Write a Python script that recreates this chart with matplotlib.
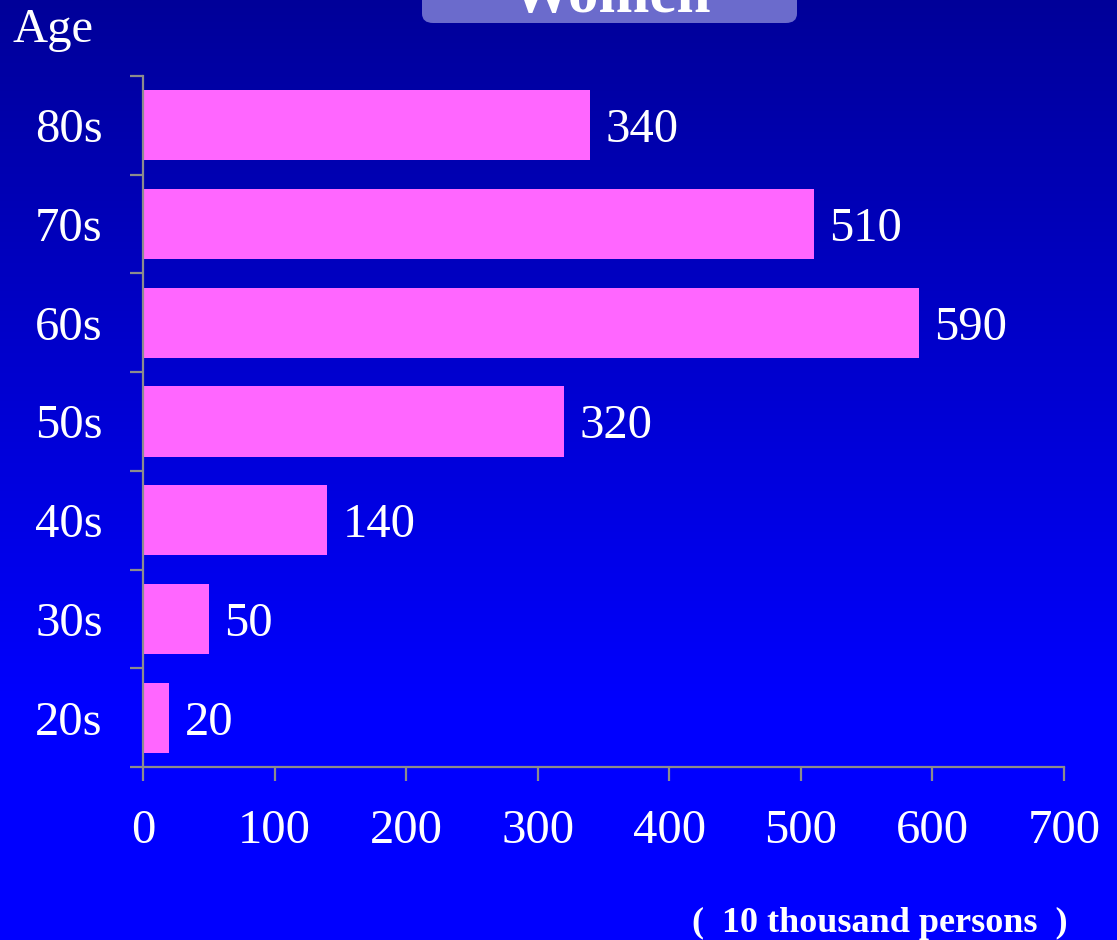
import numpy as np
import matplotlib
matplotlib.use("Agg")
import matplotlib.pyplot as plt
from matplotlib.patches import FancyBboxPatch

# age groups, bottom to top
ages = ["20s", "30s", "40s", "50s", "60s", "70s", "80s"]
women = [20, 50, 140, 320, 590, 510, 340]
x_ticks = [0, 100, 200, 300, 400, 500, 600, 700]

plt.rcParams["font.family"] = ["Liberation Serif", "DejaVu Serif"]

fig = plt.figure(figsize=(11.17, 9.4), dpi=100)

# blue background, darker at the top
bg = fig.add_axes([0, 0, 1, 1], zorder=0)
bg.axis("off")
rows = np.linspace(0, 1, 400)
blue = np.clip(0.60 + 0.40 * rows / 0.75, 0, 1)
grad = np.zeros((400, 2, 3))
grad[:, :, 2] = blue[:, None]
bg.imshow(grad, aspect="auto", extent=[0, 1, 1, 0], interpolation="bilinear")
bg.set_xlim(0, 1)
bg.set_ylim(1, 0)

ax = fig.add_axes([143 / 1117, 1 - 767 / 940, (1064 - 143) / 1117, (767 - 76) / 940], zorder=1)
ax.patch.set_alpha(0)

y = np.arange(len(ages))
ax.barh(y, women, height=0.71, color="#FF66FF", zorder=2)
for yi, v in zip(y, women):
    ax.annotate(str(v), (v, yi), xytext=(11, 0), textcoords="offset points",
                va="center_baseline", ha="left", color="white", fontsize=35)

ax.set_xlim(0, 700)
ax.set_ylim(-0.5, len(ages) - 0.5)

for s in ["top", "right"]:
    ax.spines[s].set_visible(False)
for s in ["left", "bottom"]:
    ax.spines[s].set_color("#8C8C8C")
    ax.spines[s].set_linewidth(1.6)

ax.set_xticks(x_ticks)
ax.set_xticklabels([str(t) for t in x_ticks])
ax.tick_params(axis="x", colors="#8C8C8C", length=10, width=1.6, direction="out",
               labelcolor="white", labelsize=35, pad=20)

# boundary ticks on the y axis, labels at the bar centres
ax.set_yticks(np.arange(-0.5, len(ages), 1.0))
ax.set_yticklabels([])
ax.set_yticks(y, minor=True)
ax.set_yticklabels(ages, minor=True, va="center_baseline")
ax.tick_params(axis="y", which="major", colors="#8C8C8C", length=9.5, width=1.6, direction="out")
ax.tick_params(axis="y", which="minor", length=0, labelcolor="white", labelsize=35, pad=29)

fig.text(12 / 1117, 1 - 42 / 940, "Age", color="white", fontsize=35, ha="left", va="baseline")
fig.text(1068 / 1117, 1 - 932 / 940, "(  10 thousand persons  )", color="white", fontsize=26,
         fontweight="bold", ha="right", va="baseline")

# title tab at the top edge
box = FancyBboxPatch((422 / 1117, 1 - 23 / 940), 375 / 1117, 60 / 940,
                     boxstyle="round,pad=0,rounding_size=0.01", transform=fig.transFigure,
                     facecolor="#6B6BCC", edgecolor="none", zorder=2)
fig.add_artist(box)
fig.text(610 / 1117, 1 - 12 / 940, "Women", color="white", fontsize=44, fontweight="bold",
         ha="center", va="baseline", zorder=3)

fig.savefig("out.png", dpi=100)
